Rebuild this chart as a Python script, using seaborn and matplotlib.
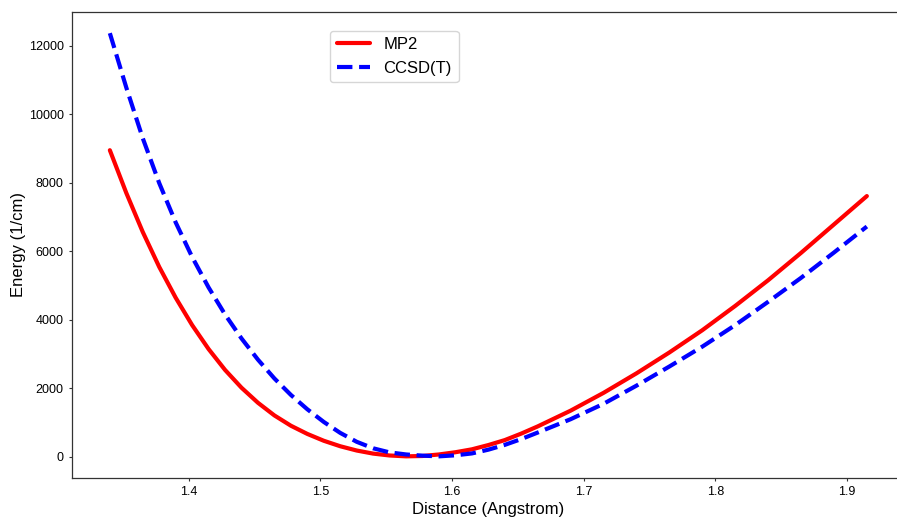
import matplotlib
matplotlib.use("Agg")
import matplotlib.pyplot as plt
import seaborn as sns
import pandas as pd

distance = [1.340, 1.3525, 1.365, 1.3775, 1.390, 1.4025, 1.415, 1.4275, 1.440, 1.4525,
            1.465, 1.4775, 1.490, 1.5025, 1.515, 1.5275, 1.540, 1.5525, 1.565, 1.5775,
            1.590, 1.6025, 1.615, 1.6275, 1.640, 1.6525, 1.665, 1.690, 1.715, 1.740,
            1.765, 1.790, 1.815, 1.840, 1.865, 1.890, 1.915]
mp2 = [8950, 7700, 6560, 5540, 4640, 3840, 3140, 2530, 2010, 1570,
       1200, 900, 660, 460, 300, 175, 85, 30, 5, 15,
       60, 125, 210, 335, 480, 670, 880, 1340, 1860, 2430,
       3040, 3690, 4400, 5150, 5950, 6780, 7610]
ccsdt = [12370, 10780, 9300, 7990, 6840, 5830, 4940, 4150, 3450, 2830,
         2280, 1800, 1380, 1010, 690, 430, 240, 120, 60, 25,
         5, 35, 90, 200, 340, 510, 700, 1090, 1540, 2070,
         2630, 3210, 3840, 4520, 5220, 5960, 6720]

series_labels = ["MP2", "CCSD(T)"]
x_label = "Distance (Angstrom)"
y_label = "Energy (1/cm)"

sns.set_theme(style="ticks")
plt.rcParams["font.family"] = ["Liberation Sans", "DejaVu Sans"]
plt.rcParams["axes.edgecolor"] = "#333333"
plt.rcParams["axes.linewidth"] = 0.9
plt.rcParams["xtick.major.size"] = 2.5
plt.rcParams["ytick.major.size"] = 2.5
plt.rcParams["xtick.major.width"] = 0.8
plt.rcParams["ytick.major.width"] = 0.8
plt.rcParams["xtick.color"] = "#333333"
plt.rcParams["ytick.color"] = "#333333"
plt.rcParams["text.color"] = "black"
plt.rcParams["axes.labelcolor"] = "black"

df = pd.DataFrame({"distance": distance, "MP2": mp2, "CCSD(T)": ccsdt})

fig = plt.figure(figsize=(8.97, 5.17), dpi=100)
ax = fig.add_axes([72 / 897, 39.5 / 517, 832.7 / 897, 465.5 / 517])

sns.lineplot(data=df, x="distance", y="MP2", ax=ax, color="#ff0000",
             linewidth=3, label=series_labels[0])
sns.lineplot(data=df, x="distance", y="CCSD(T)", ax=ax, color="#0000ff",
             linewidth=3, linestyle="--", label=series_labels[1])

ax.set_xlabel(x_label, fontsize=12, labelpad=3)
ax.set_ylabel(y_label, fontsize=12, labelpad=2)
ax.tick_params(axis="both", labelsize=9, colors="#333333", labelcolor="black")
for s in ax.spines.values():
    s.set_visible(True)

leg = ax.legend(loc="upper left", bbox_to_anchor=(0.31, 0.96), borderaxespad=0,
                fontsize=12, frameon=True)
leg.get_frame().set_edgecolor("#cccccc")

fig.savefig("out.png", dpi=100)
